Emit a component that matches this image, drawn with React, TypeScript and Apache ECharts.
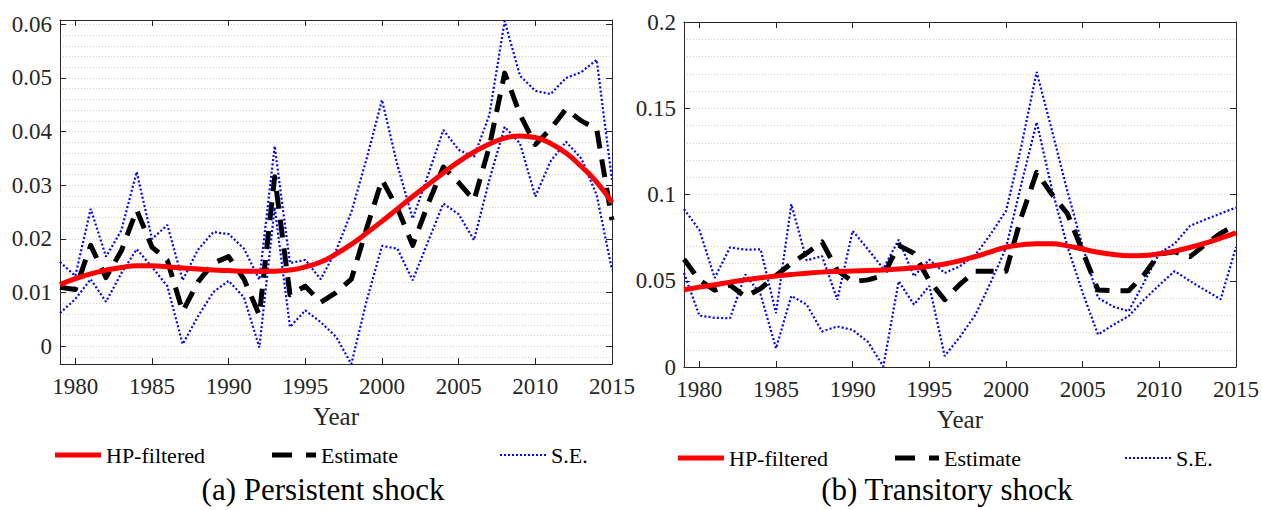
import React, { useEffect, useRef } from 'react';
import * as echarts from 'echarts';

// ---------- data ----------
const years = [
  1979, 1980, 1981, 1982, 1983, 1984, 1985, 1986, 1987, 1988, 1989, 1990, 1991,
  1992, 1993, 1994, 1995, 1996, 1997, 1998, 1999, 2000, 2001, 2002, 2003, 2004,
  2005, 2006, 2007, 2008, 2009, 2010, 2011, 2012, 2013, 2014, 2015,
];

// (a) Persistent shock
const persistentHP = [
  0.0115, 0.0126, 0.0135, 0.0142, 0.0147, 0.015, 0.015, 0.0148, 0.0146, 0.0144,
  0.0142, 0.0141, 0.014, 0.014, 0.014, 0.0142, 0.0148, 0.0157, 0.0172, 0.019,
  0.0211, 0.0233, 0.0256, 0.0279, 0.0301, 0.0323, 0.0344, 0.0362, 0.0377, 0.0388,
  0.0392, 0.0389, 0.0378, 0.036, 0.0335, 0.0306, 0.0268,
];
const persistentEstimate = [
  0.011, 0.0106, 0.0188, 0.0128, 0.0178, 0.0254, 0.0185, 0.016, 0.0065, 0.012,
  0.0155, 0.0167, 0.0125, 0.0058, 0.0316, 0.0096, 0.0112, 0.0082, 0.01, 0.0125,
  0.022, 0.031, 0.0258, 0.0188, 0.0265, 0.0334, 0.0305, 0.0272, 0.0372, 0.0509,
  0.0432, 0.0376, 0.0405, 0.0442, 0.042, 0.0405, 0.0235,
];
const persistentUpper = [
  0.0157, 0.0131, 0.0256, 0.0167, 0.0216, 0.0325, 0.02, 0.0226, 0.0123, 0.018,
  0.0213, 0.0209, 0.0182, 0.0124, 0.0373, 0.0155, 0.0161, 0.0125, 0.0178, 0.025,
  0.035, 0.0459, 0.0338, 0.0238, 0.0319, 0.0403, 0.0366, 0.0353, 0.0431, 0.0606,
  0.0504, 0.0476, 0.047, 0.05, 0.0511, 0.0534, 0.031,
];
const persistentLower = [
  0.0062, 0.0088, 0.0125, 0.0083, 0.0136, 0.0181, 0.0148, 0.0112, 0.0004, 0.0056,
  0.0101, 0.0122, 0.0091, -0.0002, 0.0259, 0.0036, 0.0067, 0.0045, 0.0018, -0.0033,
  0.0085, 0.0187, 0.0182, 0.0123, 0.0195, 0.0266, 0.0246, 0.0198, 0.031, 0.0409,
  0.0378, 0.0279, 0.0345, 0.0381, 0.035, 0.0282, 0.0142,
];

// (b) Transitory shock
const transitoryHP = [
  0.0448, 0.0463, 0.0477, 0.0492, 0.0505, 0.0517, 0.0527, 0.0536, 0.0544, 0.055,
  0.0554, 0.0557, 0.056, 0.0563, 0.0568, 0.0575, 0.0584, 0.0597, 0.0616, 0.064,
  0.0668, 0.0694, 0.0708, 0.0715, 0.0714, 0.0702, 0.0684, 0.0665, 0.0652, 0.0645,
  0.0647, 0.0656, 0.0672, 0.0693, 0.0718, 0.0747, 0.0778,
];
const transitoryEstimate = [
  0.0625, 0.0505, 0.0445, 0.0475, 0.0408, 0.0455, 0.053, 0.06, 0.066, 0.0725,
  0.056, 0.0495, 0.0505, 0.053, 0.0705, 0.066, 0.05, 0.039, 0.048, 0.0555,
  0.0555, 0.0555, 0.087, 0.1128, 0.1, 0.089, 0.067, 0.0447, 0.0442, 0.0442,
  0.0535, 0.0655, 0.0668, 0.064, 0.071, 0.0775, 0.0825,
];
const transitoryUpper = [
  0.0915, 0.0795, 0.0516, 0.0693, 0.068, 0.0682, 0.0312, 0.0944, 0.0618, 0.0643,
  0.039, 0.0789, 0.0682, 0.057, 0.0738, 0.0526, 0.0622, 0.0545, 0.0584, 0.065,
  0.077, 0.0905, 0.128, 0.171, 0.137, 0.102, 0.07, 0.0401, 0.035, 0.0324,
  0.049, 0.066, 0.0715, 0.0818, 0.0855, 0.089, 0.0924,
];
const transitoryLower = [
  0.0545, 0.0298, 0.0285, 0.0283, 0.0537, 0.042, 0.0108, 0.0412, 0.0362, 0.0206,
  0.0235, 0.0215, 0.0145, 0.0003, 0.0497, 0.0362, 0.047, 0.0064, 0.0175, 0.0302,
  0.049, 0.069, 0.106, 0.1419, 0.103, 0.07, 0.043, 0.0188, 0.0245, 0.0295,
  0.039, 0.0475, 0.0556, 0.0498, 0.0445, 0.0392, 0.0695,
];

const captions = ['(a) Persistent shock', '(b) Transitory shock'];
const legendNames = ['HP-filtered', 'Estimate', 'S.E.'];

// ---------- styling ----------
const FONT = "'Liberation Serif', 'DejaVu Serif', serif";
const AX = '#262626';
const GRIDC = '#cdcdcd';

const pair = (vals: number[]) => years.map((y, i) => [y, vals[i]]);

function xAxes(g: number) {
  const base: any = {
    type: 'value',
    gridIndex: g,
    min: 1979,
    max: 2015,
    minInterval: 5,
    maxInterval: 5,
    axisLine: { onZero: false, lineStyle: { color: AX, width: 1 } },
    axisTick: { inside: true, length: 6, lineStyle: { color: AX, width: 1 } },
    splitLine: { show: false },
  };
  return [
    {
      ...base,
      position: 'bottom',
      name: 'Year',
      nameLocation: 'middle',
      nameGap: 40,
      nameTextStyle: { fontFamily: FONT, fontSize: 25, color: '#262626' },
      axisLabel: {
        showMinLabel: false,
        formatter: (v: number) => String(v),
        fontFamily: FONT,
        fontSize: 23,
        color: '#262626',
        margin: 11,
      },
    },
    { ...base, position: 'top', axisLabel: { show: false } },
  ];
}

function yAxes(g: number, min: number, max: number, major: number, minor: number) {
  const base: any = {
    type: 'value',
    gridIndex: g,
    min,
    max,
    minInterval: major,
    maxInterval: major,
    axisLine: { onZero: false, lineStyle: { color: AX, width: 1 } },
    axisTick: { inside: true, length: 6, lineStyle: { color: AX, width: 1 } },
    splitLine: { show: false },
  };
  return [
    {
      ...base,
      position: 'left',
      axisLabel: {
        showMinLabel: min === 0,
        showMaxLabel: Math.abs(max / major - Math.round(max / major)) < 1e-6,
        fontFamily: FONT,
        fontSize: 23,
        color: '#262626',
        margin: 8,
      },
    },
    { ...base, position: 'right', axisLabel: { show: false } },
    {
      type: 'value',
      gridIndex: g,
      min,
      max,
      minInterval: minor,
      maxInterval: minor,
      position: 'left',
      axisLine: { show: false },
      axisTick: { show: false },
      axisLabel: { show: false },
      splitLine: { show: true, lineStyle: { color: GRIDC, width: 1, type: [1, 2] } },
    },
  ];
}

function seriesFor(g: number, hp: number[], est: number[], up: number[], lo: number[]) {
  const common: any = {
    type: 'line',
    xAxisIndex: g * 2,
    yAxisIndex: g * 3,
    symbol: 'none',
    showSymbol: false,
    silent: true,
    clip: true,
  };
  const se = (vals: number[]) => ({
    ...common,
    name: legendNames[2],
    data: pair(vals),
    itemStyle: { color: '#0000ff' },
    lineStyle: { color: '#0000ff', width: 2.2, type: [2, 2.2], cap: 'butt' },
    z: 2,
  });
  return [
    se(up),
    se(lo),
    {
      ...common,
      name: legendNames[1],
      data: pair(est),
      itemStyle: { color: '#000000' },
      lineStyle: { color: '#000000', width: 5, type: [18, 11], cap: 'butt', join: 'round' },
      z: 3,
    },
    {
      ...common,
      name: legendNames[0],
      data: pair(hp),
      smooth: 0.5,
      itemStyle: { color: '#ff0000' },
      lineStyle: { color: '#ff0000', width: 5 },
      z: 4,
    },
  ];
}

const dotPath =
  'path://' +
  Array.from({ length: 12 }, (_, i) => `M${i * 4} 0h2v2h-2z`).join('');
const dashPath = 'path://M0 0h20v5h-20z M34 0h10v5h-10z';

function legends(xs: number[], top: number) {
  const text = { fontFamily: FONT, fontSize: 22, color: '#000' };
  const icons = [
    { icon: 'rect', w: 46, h: 5 },
    { icon: dashPath, w: 44, h: 5 },
    { icon: dotPath, w: 46, h: 2 },
  ];
  return legendNames.map((n, i) => ({
    left: xs[i],
    top,
    padding: 0,
    data: [n],
    icon: icons[i].icon,
    itemWidth: icons[i].w,
    itemHeight: icons[i].h,
    itemGap: 0,
    selectedMode: false,
    itemStyle: { borderWidth: 0 },
    textStyle: text,
  }));
}

function buildOption(): any {
  const capStyle = { fontFamily: FONT, fontSize: 31, fontWeight: 'normal', color: '#000' };
  return {
    animation: false,
    backgroundColor: '#ffffff',
    textStyle: { fontFamily: FONT },
    title: [
      { text: captions[0], left: 323, top: 474, textAlign: 'center', padding: 0, textStyle: capStyle },
      { text: captions[1], left: 947, top: 474, textAlign: 'center', padding: 0, textStyle: capStyle },
    ],
    legend: [...legends([55, 272, 500], 444), ...legends([678, 895, 1125], 447)],
    grid: [
      { left: 60, top: 20, width: 552, height: 344, containLabel: false },
      { left: 684, top: 22, width: 552, height: 345, containLabel: false },
    ],
    xAxis: [...xAxes(0), ...xAxes(1)],
    yAxis: [
      ...yAxes(0, -0.0033, 0.0608, 0.01, 0.002),
      ...yAxes(1, 0, 0.2, 0.05, 0.01),
    ],
    series: [
      ...seriesFor(0, persistentHP, persistentEstimate, persistentUpper, persistentLower),
      ...seriesFor(1, transitoryHP, transitoryEstimate, transitoryUpper, transitoryLower),
    ],
  };
}

export default function App() {
  const ref = useRef<HTMLDivElement>(null);
  useEffect(() => {
    if (!ref.current) return;
    const chart = echarts.init(ref.current, null, { renderer: 'svg' });
    chart.setOption(buildOption());
    return () => chart.dispose();
  }, []);
  return (
    <div
      ref={ref}
      style={{ position: 'fixed', left: 0, top: 0, width: 1262, height: 510, background: '#fff' }}
    />
  );
}
